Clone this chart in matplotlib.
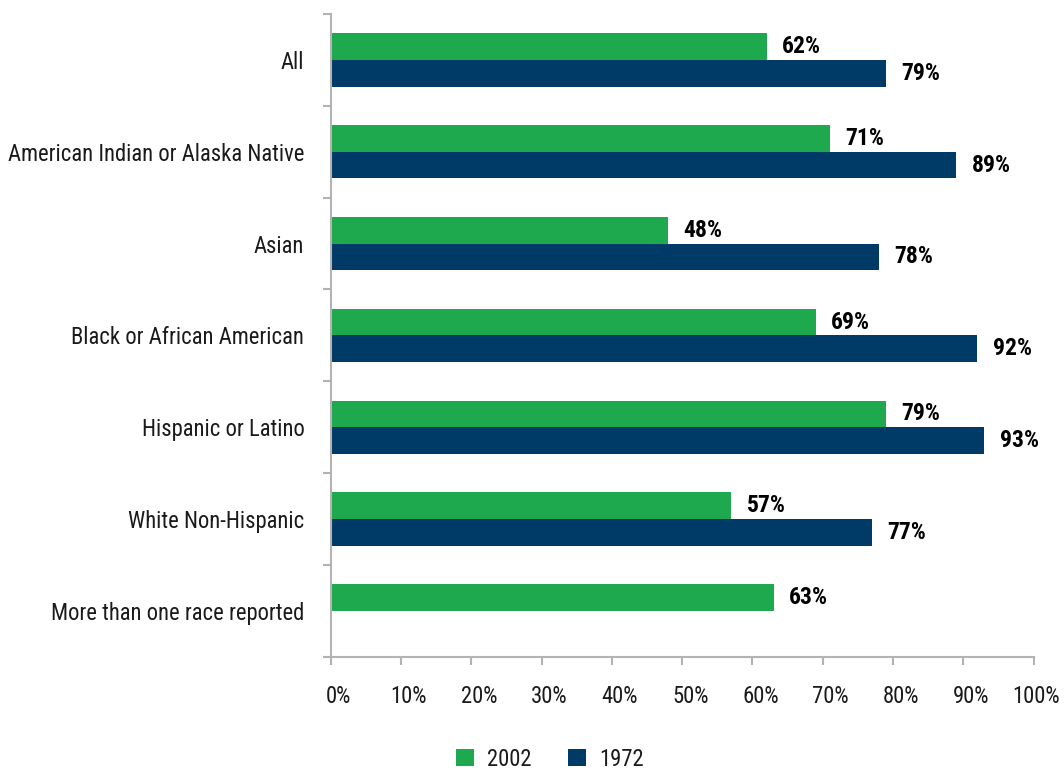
import numpy as np
import matplotlib.pyplot as plt
from matplotlib import font_manager
from matplotlib.font_manager import FontProperties
from matplotlib.transforms import ScaledTranslation
from matplotlib.ticker import FixedLocator, PercentFormatter


def weight_of(f):
    w = f.weight
    if isinstance(w, str):
        w = font_manager.weight_dict.get(w, 400)
    return int(w)


# look for a narrow sans with both a regular and a bold face
narrow = [f for f in font_manager.fontManager.ttflist
          if ('Narrow' in f.name or 'Condensed' in f.name) and f.style == 'normal']
prefer = ['Liberation Sans Narrow', 'Roboto Condensed', 'Noto Sans Condensed',
          'Open Sans Condensed', 'Arial Narrow']
reg_file = bold_file = None
for fam in prefer + sorted({f.name for f in narrow}):
    regs = [f for f in narrow if f.name == fam and 350 <= weight_of(f) <= 450]
    bolds = [f for f in narrow if (f.name == fam and weight_of(f) >= 700)
             or f.name in (fam + ' Bold', fam.replace('Condensed', 'Condensed Bold'))]
    if regs and bolds:
        reg_file, bold_file = regs[0].fname, bolds[0].fname
        break
    if regs and reg_file is None:
        reg_file = regs[0].fname

if reg_file:
    def font(size, bold=False):
        if bold and bold_file:
            return FontProperties(fname=bold_file, size=size)
        if bold:
            return FontProperties(family='Liberation Sans', weight='bold', size=size - 3)
        return FontProperties(fname=reg_file, size=size)
    fs_lab, fs_val = 16.3, 17
else:
    def font(size, bold=False):
        return FontProperties(family='Liberation Sans', weight='bold' if bold else 'normal', size=size)
    fs_lab, fs_val = 13.5, 13

groups = ['All', 'American Indian or Alaska Native', 'Asian',
          'Black or African American', 'Hispanic or Latino',
          'White Non-Hispanic', 'More than one race reported']
pct_2002 = [62, 71, 48, 69, 79, 57, 63]
pct_1972 = [79, 89, 78, 92, 93, 77, None]

green = '#1ea94e'
navy = '#003a66'
grey = '#b3b3b3'
ink = '#1a1a1a'

fig = plt.figure(figsize=(10.64, 7.71), dpi=100)
ax = fig.add_axes([0.3108, 0.1482, 0.6607, 0.8336])

n = len(groups)
centers = np.arange(n) + 0.5
bh = 0.29

for i, (a, b) in enumerate(zip(pct_2002, pct_1972)):
    c = centers[i]
    ax.barh(c - bh / 2, a, height=bh, color=green, label='2002' if i == 0 else None)
    ax.text(a + 2.2, c - bh / 2, f'{a}%', va='center', ha='left',
            fontproperties=font(fs_val, bold=True), color='black')
    if b is not None:
        ax.barh(c + bh / 2, b, height=bh, color=navy, label='1972' if i == 0 else None)
        ax.text(b + 2.2, c + bh / 2, f'{b}%', va='center', ha='left',
                fontproperties=font(fs_val, bold=True), color='black')

ax.set_xlim(0, 100)
ax.set_ylim(n, 0)
ax.xaxis.set_major_locator(FixedLocator(np.arange(0, 101, 10)))
ax.xaxis.set_major_formatter(PercentFormatter(decimals=0))

# category labels sit between the boundary ticks
ax.set_yticks(np.arange(n + 1))
ax.set_yticklabels([])
ax.set_yticks(centers, minor=True)
ax.set_yticklabels(groups, minor=True, color=ink)
for t in ax.get_yticklabels(minor=True):
    t.set_fontproperties(font(fs_lab))
ax.tick_params(axis='y', which='minor', length=0, pad=19)
ax.tick_params(axis='y', which='major', length=6, width=1.5, color=grey, direction='out')
ax.tick_params(axis='x', length=6, width=1.5, color=grey, direction='out',
               labelcolor=ink, pad=14)

# nudge percent labels a little right, last one stays inside the figure
labels = ax.get_xticklabels()
for j, t in enumerate(labels):
    t.set_fontproperties(font(fs_lab))
    dx = 2 if j == len(labels) - 1 else 8
    t.set_transform(t.get_transform() + ScaledTranslation(dx / 100, 0, fig.dpi_scale_trans))

for s in ['top', 'right']:
    ax.spines[s].set_visible(False)
for s in ['left', 'bottom']:
    ax.spines[s].set_color(grey)
    ax.spines[s].set_linewidth(1.5)

leg = fig.legend(loc='center', bbox_to_anchor=(550 / 1064, 1 - 759 / 771), ncol=2,
                 frameon=False, prop=font(fs_lab), handlelength=0.8, handleheight=0.8,
                 columnspacing=1.6, handletextpad=0.6, borderpad=0.2)
for t in leg.get_texts():
    t.set_color(ink)

fig.savefig('out.png', dpi=100)
